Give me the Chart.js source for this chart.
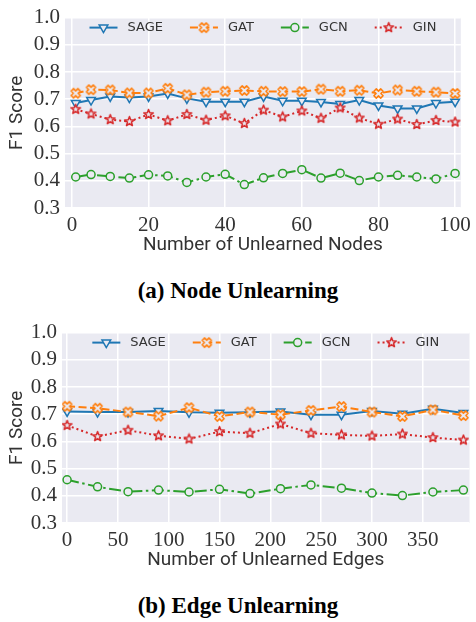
<!DOCTYPE html>
<html>
<head>
<meta charset="utf-8">
<script src="https://cdn.jsdelivr.net/npm/chart.js@4.4.1/dist/chart.umd.min.js"></script>
<style>
  body { margin: 0; background: #fff; width: 476px; height: 622px; position: relative; overflow: hidden; }
  .box { position: absolute; left: 0; width: 476px; height: 262px; }
  .cap { position: absolute; left: 0; width: 476px; text-align: center; font: bold 23px "Liberation Serif"; line-height: 22px; color: #000; }
</style>
</head>
<body>
<div class="box" style="top:0"><canvas id="node-chart"></canvas></div>
<div class="cap" style="top:280px">(a) Node Unlearning</div>
<div class="box" style="top:315px"><canvas id="edge-chart"></canvas></div>
<div class="cap" style="top:595px">(b) Edge Unlearning</div>
<script>
const seriesNames = ["SAGE", "GAT", "GCN", "GIN"];

const nodeCounts = [1, 5, 10, 15, 20, 25, 30, 35, 40, 45, 50, 55, 60, 65, 70, 75, 80, 85, 90, 95, 100];
const nodeSage = [0.686, 0.697, 0.710, 0.706, 0.710, 0.721, 0.703, 0.691, 0.691, 0.691, 0.710, 0.694, 0.694, 0.690, 0.682, 0.697, 0.677, 0.666, 0.666, 0.686, 0.691];
const nodeGat = [0.722, 0.735, 0.734, 0.723, 0.723, 0.740, 0.716, 0.726, 0.729, 0.732, 0.729, 0.728, 0.728, 0.737, 0.729, 0.733, 0.721, 0.734, 0.729, 0.726, 0.721];
const nodeGcn = [0.414, 0.423, 0.416, 0.410, 0.422, 0.418, 0.394, 0.414, 0.424, 0.386, 0.411, 0.427, 0.441, 0.410, 0.428, 0.401, 0.414, 0.420, 0.414, 0.407, 0.427];
const nodeGin = [0.663, 0.646, 0.625, 0.618, 0.644, 0.621, 0.644, 0.623, 0.639, 0.611, 0.660, 0.635, 0.657, 0.630, 0.668, 0.631, 0.608, 0.627, 0.607, 0.622, 0.616];

const edgeCounts = [0, 30, 60, 90, 120, 150, 180, 210, 240, 270, 300, 330, 360, 390];
const edgeSage = [0.710, 0.708, 0.708, 0.712, 0.707, 0.705, 0.707, 0.710, 0.698, 0.698, 0.712, 0.702, 0.720, 0.704];
const edgeGat = [0.729, 0.722, 0.708, 0.693, 0.724, 0.692, 0.708, 0.698, 0.714, 0.728, 0.708, 0.692, 0.716, 0.695];
const edgeGcn = [0.459, 0.433, 0.415, 0.421, 0.414, 0.424, 0.408, 0.426, 0.440, 0.428, 0.410, 0.401, 0.414, 0.421];
const edgeGin = [0.659, 0.618, 0.641, 0.621, 0.609, 0.636, 0.630, 0.664, 0.630, 0.624, 0.620, 0.627, 0.614, 0.605];

const yTicks = [0.3, 0.4, 0.5, 0.6, 0.7, 0.8, 0.9, 1.0];
const nodeTicks = [0, 20, 40, 60, 80, 100];
const edgeTicks = [0, 50, 100, 150, 200, 250, 300, 350];

const BG = "#eaeaf2";
const TEXT = "#333";

// hollow marker images for GAT (filled X) and GIN (star)
const makeMarker = (size, color, pathFn) => {
  const c = document.createElement("canvas");
  c.width = c.height = size;
  const ctx = c.getContext("2d");
  ctx.translate(size / 2, size / 2);
  ctx.beginPath();
  pathFn(ctx);
  ctx.closePath();
  ctx.fillStyle = BG;
  ctx.fill();
  ctx.strokeStyle = color;
  ctx.lineWidth = 1.5;
  ctx.lineJoin = "round";
  ctx.stroke();
  return c;
};

const xMarker = makeMarker(13, "#ff7f0e", (ctx) => {
  const L = 4.8, t = 1.7;
  const pts = [[-t, -L], [t, -L], [t, -t], [L, -t], [L, t], [t, t], [t, L], [-t, L], [-t, t], [-L, t], [-L, -t], [-t, -t]];
  const a = Math.PI / 4;
  pts.forEach(([px, py], i) => {
    const rx = px * Math.cos(a) - py * Math.sin(a);
    const ry = px * Math.sin(a) + py * Math.cos(a);
    i ? ctx.lineTo(rx, ry) : ctx.moveTo(rx, ry);
  });
});

const starMarker = makeMarker(13, "#d62728", (ctx) => {
  for (let i = 0; i < 10; i++) {
    const r = i % 2 ? 2.1 : 5.0;
    const a = -Math.PI / 2 + (i * Math.PI) / 5;
    i ? ctx.lineTo(r * Math.cos(a), r * Math.sin(a)) : ctx.moveTo(r * Math.cos(a), r * Math.sin(a));
  }
});

const styles = [
  { color: "#1f77b4", dash: [], pointStyle: "triangle", rotation: 180, radius: 5, order: 3 },
  { color: "#ff7f0e", dash: [8, 3.5], pointStyle: xMarker, rotation: 0, radius: 5, order: 2 },
  { color: "#2ca02c", dash: [12, 3.5, 2.5, 3.5], pointStyle: "circle", rotation: 0, radius: 4, order: 1 },
  { color: "#d62728", dash: [2, 3], pointStyle: starMarker, rotation: 0, radius: 5, order: 0 },
];

const makeDatasets = (xs, seriesList) =>
  seriesList.map((values, i) => ({
    label: seriesNames[i],
    data: xs.map((x, j) => ({ x, y: values[j] })),
    borderColor: styles[i].color,
    borderWidth: 2,
    borderDash: styles[i].dash,
    pointStyle: styles[i].pointStyle,
    pointRotation: styles[i].rotation,
    pointRadius: styles[i].radius,
    pointBackgroundColor: BG,
    pointBorderColor: styles[i].color,
    pointBorderWidth: 1.5,
    tension: 0,
    fill: false,
    order: styles[i].order,
  }));

const plotBackground = {
  id: "plotBackground",
  beforeDraw(chart) {
    const { ctx, chartArea } = chart;
    ctx.save();
    ctx.fillStyle = BG;
    ctx.fillRect(chartArea.left, chartArea.top, chartArea.right - chartArea.left, chartArea.bottom - chartArea.top);
    ctx.restore();
  },
};

// matplotlib-style legend, 4 columns inside the top of the plot
const legendInside = {
  id: "legendInside",
  afterDatasetsDraw(chart) {
    const { ctx, chartArea } = chart;
    const sets = chart.data.datasets;
    const handle = 28, gap = 10, colGap = 27;
    ctx.save();
    ctx.font = "13px 'DejaVu Sans'";
    const widths = sets.map((ds) => handle + gap + ctx.measureText(ds.label).width);
    const total = widths.reduce((a, b) => a + b, 0) + colGap * (sets.length - 1);
    let x = (chartArea.left + chartArea.right) / 2 - total / 2;
    const y = chartArea.top + 10;
    sets.forEach((ds, i) => {
      ctx.strokeStyle = ds.borderColor;
      ctx.lineWidth = ds.borderWidth;
      ctx.setLineDash(ds.borderDash);
      ctx.beginPath();
      ctx.moveTo(x, y);
      ctx.lineTo(x + handle, y);
      ctx.stroke();
      ctx.setLineDash([]);
      ctx.fillStyle = BG;
      ctx.strokeStyle = ds.borderColor;
      ctx.lineWidth = ds.pointBorderWidth;
      Chart.helpers.drawPoint(ctx, {
        pointStyle: ds.pointStyle,
        rotation: ds.pointRotation,
        radius: ds.pointRadius,
        borderWidth: ds.pointBorderWidth,
      }, x + handle / 2, y);
      ctx.fillStyle = TEXT;
      ctx.textBaseline = "middle";
      ctx.textAlign = "left";
      ctx.fillText(ds.label, x + handle + gap, y + 0.5);
      x += widths[i] + colGap;
    });
    ctx.restore();
  },
};

const buildChart = (canvas, xs, seriesList, cfg) =>
  new Chart(canvas, {
    type: "line",
    data: { datasets: makeDatasets(xs, seriesList) },
    plugins: [plotBackground, legendInside],
    options: {
      responsive: true,
      maintainAspectRatio: false,
      animation: false,
      layout: { padding: { top: 12, right: cfg.rightPad, left: 0, bottom: 0 } },
      plugins: { legend: { display: false }, tooltip: { enabled: false } },
      scales: {
        x: {
          type: "linear",
          min: cfg.xMin,
          max: cfg.xMax,
          afterBuildTicks: (s) => { s.ticks = cfg.xTicks.map((v) => ({ value: v })); },
          afterFit: (s) => { s.height = 54; },
          grid: { color: "#fff", lineWidth: 1.5, drawTicks: false },
          border: { display: false },
          ticks: {
            padding: 5,
            color: TEXT,
            maxRotation: 0,
            autoSkip: false,
            font: { family: "Liberation Serif", size: 21 },
          },
          title: {
            display: true,
            text: cfg.xTitle,
            color: TEXT,
            font: { family: "Roboto", size: 19 },
            padding: { top: 0, bottom: 5 },
          },
        },
        y: {
          min: 0.3,
          max: 1.0,
          afterBuildTicks: (s) => { s.ticks = yTicks.map((v) => ({ value: v })); },
          afterFit: (s) => { s.width = cfg.yWidth; },
          grid: { color: "#fff", lineWidth: 1.5, drawTicks: false },
          border: { display: false },
          ticks: {
            padding: 5,
            color: TEXT,
            autoSkip: false,
            font: { family: "Liberation Serif", size: 21 },
            callback: (v) => Number(v).toFixed(1),
          },
          title: {
            display: true,
            text: "F1 Score",
            color: TEXT,
            font: { family: "Roboto", size: 19 },
            padding: { top: 6, bottom: 0 },
          },
        },
      },
    },
  });

buildChart(document.getElementById("node-chart"), nodeCounts, [nodeSage, nodeGat, nodeGcn, nodeGin], {
  xMin: -1.8, xMax: 101.5, xTicks: nodeTicks, xTitle: "Number of Unlearned Nodes", yWidth: 65, rightPad: 10,
});

buildChart(document.getElementById("edge-chart"), edgeCounts, [edgeSage, edgeGat, edgeGcn, edgeGin], {
  xMin: -5, xMax: 396, xTicks: edgeTicks, xTitle: "Number of Unlearned Edges", yWidth: 62, rightPad: 0,
});
</script>
</body>
</html>
